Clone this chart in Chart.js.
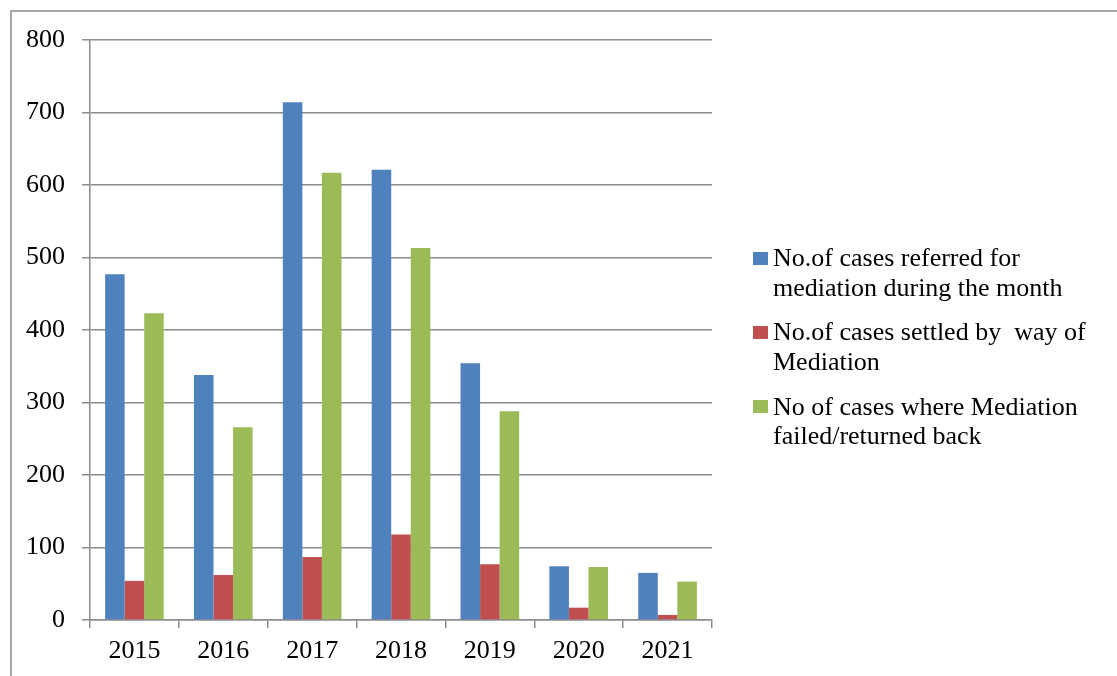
<!DOCTYPE html>
<html>
<head>
<meta charset="utf-8">
<script src="https://cdn.jsdelivr.net/npm/chart.js@4.4.1/dist/chart.umd.min.js"></script>
<style>
    body { margin: 0; background: #fff; }
    .cadre {
        position: absolute; left: 10px; top: 10px; width: 1200px; height: 800px;
        border-top: 2px solid #a6a6a6; border-left: 2px solid #a6a6a6;
        box-sizing: border-box;
    }
    #zone { position: absolute; left: 0; top: 0; width: 1117px; height: 676px; }
    .legende {
        position: absolute; left: 753px; top: 243px;
        font-family: "Liberation Serif", "Times New Roman", serif; font-size: 26px;
        line-height: 29.5px; color: #000;
    }
    .legende .item { position: relative; padding-left: 20px; height: 59px; margin-bottom: 15.3px; white-space: pre; }
    .legende .carre { position: absolute; left: 0; top: 8.5px; width: 15px; height: 13px; }
</style>
</head>
<body>
<div class="cadre"></div>
<div id="zone"><canvas id="graphique-mediation" width="1117" height="676"></canvas></div>
<div class="legende"></div>
<script>
const annees = ["2015", "2016", "2017", "2018", "2019", "2020", "2021"];

const casReferes = [477, 338, 714, 621, 354, 74, 65];
const casRegles = [54, 62, 87, 118, 77, 17, 7];
const casEchoues = [423, 266, 617, 513, 288, 73, 53];

const nomsSeries = [
    ["No.of cases referred for", "mediation during the month"],
    ["No.of cases settled by  way of", "Mediation"],
    ["No of cases where Mediation", "failed/returned back"],
];
const couleurs = ["#4f81bd", "#c0504d", "#9bbb59"];

const graduationsY = [0, 100, 200, 300, 400, 500, 600, 700, 800];

const police = { family: "'Liberation Serif', 'Times New Roman', serif", size: 26 };
const gris = "#8c8c8c";

const series = [casReferes, casRegles, casEchoues];
const datasets = series.map((valeurs, i) => ({
    label: nomsSeries[i].join(" "),
    data: valeurs,
    backgroundColor: couleurs[i],
    barPercentage: 1,
    categoryPercentage: 0.66,
}));

const config = {
    type: "bar",
    data: { labels: annees, datasets: datasets },
    options: {
        responsive: false,
        animation: false,
        layout: { padding: { left: 10, top: 40, right: 405, bottom: 0 } },
        plugins: { legend: { display: false }, tooltip: { enabled: false } },
        scales: {
            x: {
                afterFit(scale) { scale.height = 56; },
                grid: { drawOnChartArea: false, drawTicks: true, tickLength: 8, color: gris, lineWidth: 1.5, offset: true },
                border: { color: gris, width: 1.5 },
                ticks: { color: "#000", font: police, padding: 8 },
            },
            y: {
                min: 0,
                max: 800,
                afterFit(scale) { scale.width = 80; },
                afterBuildTicks(scale) { scale.ticks = graduationsY.map(v => ({ value: v })); },
                grid: { color: gris, lineWidth: 1.5, tickLength: 8 },
                border: { color: gris, width: 1.5 },
                ticks: { color: "#000", font: police, padding: 17 },
            },
        },
    },
};

const graphique = new Chart(document.querySelector("#graphique-mediation"), config);

// legende a droite, une entree par serie, sur deux lignes
const legende = document.querySelector(".legende");
graphique.data.datasets.forEach((ds, i) => {
    const item = document.createElement("div");
    item.className = "item";
    item.innerHTML = `<span class="carre" style="background:${ds.backgroundColor}"></span>` + nomsSeries[i].join("\n");
    legende.appendChild(item);
});
</script>
</body>
</html>
